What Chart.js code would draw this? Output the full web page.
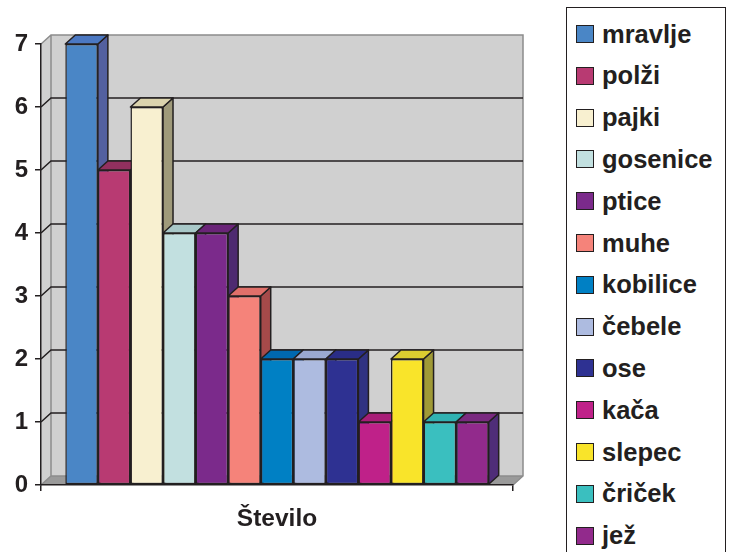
<!DOCTYPE html>
<html>
<head>
<meta charset="utf-8">
<script src="https://cdn.jsdelivr.net/npm/chart.js@4/dist/chart.umd.min.js"></script>
<style>
  html, body { margin: 0; padding: 0; background: #fff; }
  #wrap { position: relative; width: 733px; height: 552px; overflow: hidden; }
  #c { position: absolute; left: 0; top: 0; }
  #legend {
    position: absolute; left: 566px; top: 7px; width: 160px; height: 556px;
    box-sizing: border-box; border: 1.5px solid #231f20; background: #fff;
    font-family: "Liberation Sans", Arial, sans-serif; font-weight: bold;
    font-size: 25.5px; color: #231f20;
  }
  .item { position: absolute; left: 9px; height: 30px; display: flex; align-items: center; }
  .sw { width: 18px; height: 18px; box-sizing: border-box; border: 1.5px solid #231f20; margin-right: 8px; }
</style>
</head>
<body>
<div id="wrap">
  <canvas id="c" width="733" height="552"></canvas>
  <div id="legend"></div>
</div>
<script>
// Categories, series and tick labels
const categories = ['Število'];
const seriesNames = ['mravlje', 'polži', 'pajki', 'gosenice', 'ptice', 'muhe', 'kobilice',
                     'čebele', 'ose', 'kača', 'slepec', 'čriček', 'jež'];
const seriesValues = [7, 5, 6, 4, 4, 3, 2, 2, 2, 1, 2, 1, 1];
const yTickLabels = ['0', '1', '2', '3', '4', '5', '6', '7'];

// Face colours: front, top, side
const frontColors = ['#4a86c6', '#b83a72', '#f8f0d0', '#c2e0e0', '#7b2a8b', '#f5837a', '#0080c4',
                     '#adbbe0', '#2e3192', '#bf2189', '#f9e42a', '#3abfbf', '#922a8c'];
const topColors   = ['#4b78c2', '#92305f', '#dcd4ae', '#a8c8c8', '#6a2478', '#e0706a', '#0068b0',
                     '#9aa8d0', '#2a2d86', '#a81e78', '#dccd30', '#30b2b2', '#7a2a80'];
const sideColors  = ['#5360a0', '#8e2e5a', '#9f9a7a', '#8aa0a0', '#4e2a70', '#a64a4a', '#1a4f90',
                     '#7078a8', '#303282', '#7a1a68', '#a09a36', '#2a8a8a', '#4f2d78'];

const INK = '#231f20';
const DX = 10, DY = -9;           // depth offset of the 3D box
const WALL = '#d0d0d0', FLOOR = '#9a9a9a', WALL_EDGE = '#8c8c8c';

// Walls, floor and back-wall gridlines
const box3d = {
  id: 'box3d',
  beforeDraw(chart) {
    const { ctx, chartArea: { left, right, top, bottom }, scales: { y } } = chart;
    ctx.save();
    // back wall
    ctx.fillStyle = WALL;
    ctx.fillRect(left + DX, top + DY, right - left, bottom - top);
    // left wall
    ctx.beginPath();
    ctx.moveTo(left, bottom); ctx.lineTo(left + DX, bottom + DY);
    ctx.lineTo(left + DX, top + DY); ctx.lineTo(left, top); ctx.closePath();
    ctx.fill();
    // floor
    ctx.fillStyle = FLOOR;
    ctx.beginPath();
    ctx.moveTo(left, bottom); ctx.lineTo(right, bottom);
    ctx.lineTo(right + DX, bottom + DY); ctx.lineTo(left + DX, bottom + DY); ctx.closePath();
    ctx.fill();
    // wall edges
    ctx.strokeStyle = WALL_EDGE; ctx.lineWidth = 1.5;
    ctx.beginPath();
    ctx.moveTo(left, top); ctx.lineTo(left + DX, top + DY);
    ctx.lineTo(right + DX, top + DY); ctx.lineTo(right + DX, bottom + DY);
    ctx.lineTo(right, bottom);
    ctx.moveTo(left + DX, top + DY); ctx.lineTo(left + DX, bottom + DY);
    ctx.moveTo(left, bottom); ctx.lineTo(left + DX, bottom + DY);
    ctx.lineTo(right + DX, bottom + DY);
    ctx.stroke();
    // gridlines
    ctx.strokeStyle = INK; ctx.lineWidth = 1.5;
    ctx.beginPath();
    y.ticks.forEach(t => {
      if (t.value <= y.min || t.value >= y.max) return;
      const py = y.getPixelForValue(t.value);
      ctx.moveTo(left, py); ctx.lineTo(left + DX, py + DY); ctx.lineTo(right + DX, py + DY);
    });
    ctx.stroke();
    ctx.restore();
  },
  beforeDatasetsDraw(chart) {
    const { ctx } = chart;
    ctx.save();
    ctx.strokeStyle = INK; ctx.lineWidth = 1.5; ctx.lineJoin = 'round';
    chart.data.datasets.forEach((ds, i) => {
      const el = chart.getDatasetMeta(i).data[0];
      if (!el) return;
      const { x, y, base, width } = el.getProps(['x', 'y', 'base', 'width'], true);
      const l = x - width / 2, r = x + width / 2;
      // side face
      ctx.fillStyle = sideColors[i];
      ctx.beginPath();
      ctx.moveTo(r, y); ctx.lineTo(r + DX, y + DY); ctx.lineTo(r + DX, base + DY); ctx.lineTo(r, base);
      ctx.closePath(); ctx.fill(); ctx.stroke();
      // top face
      ctx.fillStyle = topColors[i];
      ctx.beginPath();
      ctx.moveTo(l, y); ctx.lineTo(r, y); ctx.lineTo(r + DX, y + DY); ctx.lineTo(l + DX, y + DY);
      ctx.closePath(); ctx.fill(); ctx.stroke();
    });
    ctx.restore();
  }
};

const FONT = "'Liberation Sans', Arial, sans-serif";

new Chart(document.getElementById('c'), {
  type: 'bar',
  data: {
    labels: categories,
    datasets: seriesNames.map((name, i) => ({
      label: name,
      data: [seriesValues[i]],
      backgroundColor: frontColors[i],
      borderColor: INK,
      borderWidth: 1.5,
      borderSkipped: false,
      categoryPercentage: 0.897,
      barPercentage: 1.0
    }))
  },
  options: {
    responsive: false,
    animation: false,
    layout: { padding: { left: 0, right: 220, top: 44, bottom: 0 } },
    plugins: { legend: { display: false }, tooltip: { enabled: false } },
    scales: {
      x: {
        grid: { display: true, offset: true, drawOnChartArea: false, drawTicks: true,
                tickLength: 6, color: INK, lineWidth: 1.5 },
        border: { display: true, color: INK, width: 1.5 },
        ticks: { color: INK, padding: 14, font: { family: FONT, size: 24.5, weight: 'bold' } },
        afterFit(s) { s.height = 67; }
      },
      y: {
        min: 0, max: 7,
        grid: { display: true, drawOnChartArea: false, drawTicks: true,
                tickLength: 6, color: INK, lineWidth: 1.5 },
        border: { display: true, color: INK, width: 1.5 },
        ticks: { stepSize: 1, color: INK, padding: 7,
                 font: { family: FONT, size: 24, weight: 'bold' },
                 callback: (v) => yTickLabels[v] },
        afterFit(s) { s.width = 41; }
      }
    }
  },
  plugins: [box3d]
});

// Legend
const legend = document.getElementById('legend');
seriesNames.forEach((name, i) => {
  const row = document.createElement('div');
  row.className = 'item';
  row.style.top = (33 - 7 - 15 + i * 41.8) + 'px';
  const sw = document.createElement('span');
  sw.className = 'sw';
  sw.style.background = frontColors[i];
  const tx = document.createElement('span');
  tx.textContent = name;
  row.appendChild(sw); row.appendChild(tx);
  legend.appendChild(row);
});
</script>
</body>
</html>
